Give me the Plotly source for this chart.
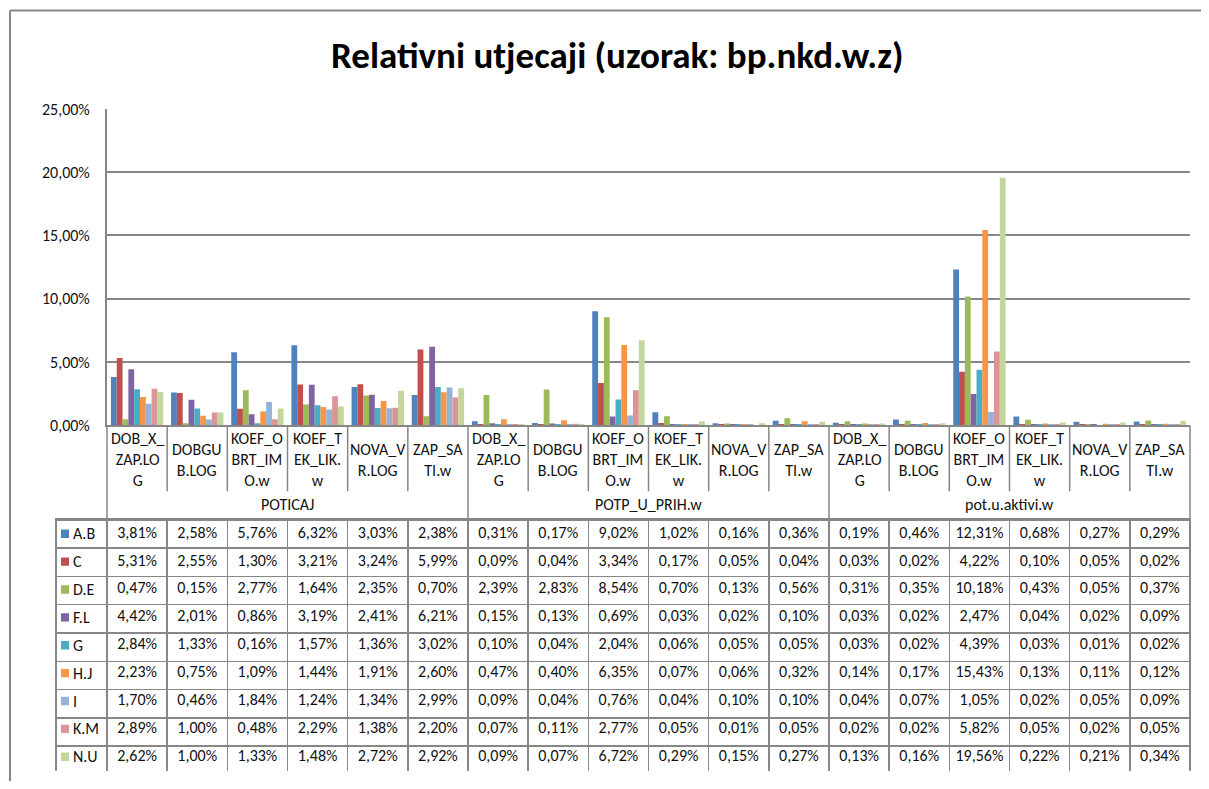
import plotly.graph_objects as go

# ---------------- data ----------------
groups = ["POTICAJ", "POTP_U_PRIH.w", "pot.u.aktivi.w"]
categories = ["DOB_X_<br>ZAP.LO<br>G", "DOBGU<br>B.LOG", "KOEF_O<br>BRT_IM<br>O.w",
              "KOEF_T<br>EK_LIK.<br>w", "NOVA_V<br>R.LOG", "ZAP_SA<br>TI.w"]
series_names = ["A.B", "C", "D.E", "F.L", "G", "H.J", "I", "K.M", "N.U"]

s_AB = [3.81, 2.58, 5.76, 6.32, 3.03, 2.38, 0.31, 0.17, 9.02, 1.02, 0.16, 0.36, 0.19, 0.46, 12.31, 0.68, 0.27, 0.29]
s_C = [5.31, 2.55, 1.30, 3.21, 3.24, 5.99, 0.09, 0.04, 3.34, 0.17, 0.05, 0.04, 0.03, 0.02, 4.22, 0.10, 0.05, 0.02]
s_DE = [0.47, 0.15, 2.77, 1.64, 2.35, 0.70, 2.39, 2.83, 8.54, 0.70, 0.13, 0.56, 0.31, 0.35, 10.18, 0.43, 0.05, 0.37]
s_FL = [4.42, 2.01, 0.86, 3.19, 2.41, 6.21, 0.15, 0.13, 0.69, 0.03, 0.02, 0.10, 0.03, 0.02, 2.47, 0.04, 0.02, 0.09]
s_G = [2.84, 1.33, 0.16, 1.57, 1.36, 3.02, 0.10, 0.04, 2.04, 0.06, 0.05, 0.05, 0.03, 0.02, 4.39, 0.03, 0.01, 0.02]
s_HJ = [2.23, 0.75, 1.09, 1.44, 1.91, 2.60, 0.47, 0.40, 6.35, 0.07, 0.06, 0.32, 0.14, 0.17, 15.43, 0.13, 0.11, 0.12]
s_I = [1.70, 0.46, 1.84, 1.24, 1.34, 2.99, 0.09, 0.04, 0.76, 0.04, 0.10, 0.10, 0.04, 0.07, 1.05, 0.02, 0.05, 0.09]
s_KM = [2.89, 1.00, 0.48, 2.29, 1.38, 2.20, 0.07, 0.11, 2.77, 0.05, 0.01, 0.05, 0.02, 0.02, 5.82, 0.05, 0.02, 0.05]
s_NU = [2.62, 1.00, 1.33, 1.48, 2.72, 2.92, 0.09, 0.07, 6.72, 0.29, 0.15, 0.27, 0.13, 0.16, 19.56, 0.22, 0.21, 0.34]
series_values = [s_AB, s_C, s_DE, s_FL, s_G, s_HJ, s_I, s_KM, s_NU]

colors = ["#4F81BD", "#C0504D", "#9BBB59", "#8064A2", "#4BACC6",
          "#F79646", "#95B3D7", "#D99694", "#C3D69B"]

y_ticks = [0, 5, 10, 15, 20, 25]

# ---------------- layout geometry (page pixels; the page keeps its 8px body margin) ----------------
OFF = 8
W, H = 1209 - 2 * OFF, 789 - 2 * OFF      # figure fits the window exactly, no scrolling
ML, MR, MT, MB = 56 - OFF, 11, 109 - OFF, 0
PW, PH = W - ML - MR, H - MT - MB
PLOT_L = 107          # left edge of bar plot area (page px)
PLOT_R = 1190
ZERO_Y = 430          # page row of 0 %
CAT_BOTTOM = 497      # bottom of category dividers
TABLE_TOP = 525
HEAD_H = 1
ROW_H = 28.3
GRID = "#878787"
TXT = "#111111"
FONT = "Carlito, Calibri, Lato, sans-serif"


def px_x(px):
    return min(max((px - OFF - ML) / PW, -1.0), 2.0)


def px_y(py):
    return (H - MB - (py - OFF)) / PH


def clamp01(v):
    return min(max(v, 0.0), 1.0)


def fmt(v):
    return f"{v:.2f}%".replace(".", ",")


n_cat = len(groups) * len(categories)
n_ser = len(series_names)
x_pos = list(range(n_cat))
cat_labels = categories * len(groups)
ROWS_TOP = TABLE_TOP + HEAD_H
ROWS_BOTTOM = ROWS_TOP + ROW_H * n_ser

fig = go.Figure()
for name, vals, col in zip(series_names, series_values, colors):
    fig.add_trace(go.Bar(x=x_pos, y=vals, name=name, marker=dict(color=col, line=dict(width=0)),
                         showlegend=False))

# table values: one text row per series, on the category axis (x) and the row axis (y2)
for i, (name, vals) in enumerate(zip(series_names, series_values)):
    fig.add_trace(go.Scatter(x=x_pos, y=[name] * n_cat, xaxis="x", yaxis="y2", mode="text",
                             text=[fmt(v) for v in vals], textposition="middle center",
                             textfont=dict(family=FONT, size=16, color=TXT),
                             cliponaxis=False, showlegend=False, hoverinfo="skip"))

# data-table grid (transparent cells, so the value texts show through)
fig.add_trace(go.Table(
    domain=dict(x=[0, clamp01(px_x(PLOT_R))], y=[0, clamp01(px_y(TABLE_TOP))]),
    columnwidth=[PLOT_L - 56] + [(PLOT_R - PLOT_L) / n_cat] * n_cat,
    header=dict(values=[""] * (n_cat + 1), height=HEAD_H, fill_color="rgba(0,0,0,0)",
                line=dict(color=GRID, width=1.5)),
    cells=dict(values=[[""] * n_ser for _ in range(n_cat + 1)], height=ROW_H,
               fill_color="rgba(0,0,0,0)", line=dict(color=GRID, width=1.5)),
))

shapes = []
annotations = []
# outer chart frame (top + left)
shapes.append(dict(type="line", xref="paper", yref="paper", x0=px_x(10), x1=px_x(1215),
                   y0=px_y(9), y1=px_y(9), line=dict(color=GRID, width=2)))
shapes.append(dict(type="line", xref="paper", yref="paper", x0=px_x(10), x1=px_x(10),
                   y0=px_y(9), y1=px_y(800), line=dict(color=GRID, width=2)))

# legend keys in the table's first column
for i, (name, col) in enumerate(zip(series_names, colors)):
    shapes.append(dict(type="rect", xref="paper", yref="y2", x0=px_x(61), x1=px_x(69),
                       y0=i - 0.15, y1=i + 0.15, fillcolor=col, line=dict(width=0)))
    annotations.append(dict(x=px_x(71), y=name, xref="paper", yref="y2", text=name,
                            showarrow=False, xanchor="left", yanchor="middle",
                            font=dict(family=FONT, size=16, color=TXT)))

# category dividers
ng = len(categories)
for k in range(n_cat + 1):
    is_group = (k % ng == 0)
    y1 = px_y(TABLE_TOP) if is_group else px_y(CAT_BOTTOM)
    if k == 0:
        shapes.append(dict(type="line", xref="paper", yref="paper", x0=px_x(PLOT_L), x1=px_x(PLOT_L),
                           y0=px_y(ZERO_Y), y1=y1, line=dict(color=GRID, width=1.5)))
    elif k == n_cat:
        shapes.append(dict(type="line", xref="paper", yref="paper", x0=px_x(PLOT_R), x1=px_x(PLOT_R),
                           y0=px_y(ZERO_Y), y1=y1, line=dict(color=GRID, width=1.5)))
    else:
        shapes.append(dict(type="line", xref="x", yref="paper", x0=k - 0.5, x1=k - 0.5,
                           y0=px_y(ZERO_Y), y1=y1, line=dict(color=GRID, width=1.5)))

# category labels
for i, lab in enumerate(cat_labels):
    annotations.append(dict(x=x_pos[i], y=px_y(465), xref="x", yref="paper",
                            text=lab, showarrow=False, xanchor="center", yanchor="middle",
                            font=dict(family=FONT, size=16, color=TXT)))
# group labels
for g, gname in enumerate(groups):
    annotations.append(dict(x=g * ng + (ng - 1) / 2, y=px_y(510), xref="x", yref="paper",
                            text=gname, showarrow=False, xanchor="center", yanchor="middle",
                            font=dict(family=FONT, size=16, color=TXT)))

# title
annotations.append(dict(x=px_x(617), y=px_y(55), xref="paper", yref="paper",
                        text="<b>Relativni utjecaji (uzorak: bp.nkd.w.z)</b>", showarrow=False,
                        xanchor="center", yanchor="middle",
                        font=dict(family=FONT, size=37, color="#000000")))

fig.update_layout(
    width=W, height=H,
    margin=dict(l=ML, r=MR, t=MT, b=MB),
    paper_bgcolor="white", plot_bgcolor="rgba(0,0,0,0)",
    barmode="group", bargap=0.13, bargroupgap=0,
    font=dict(family=FONT, size=14, color=TXT),
    shapes=shapes, annotations=annotations,
    xaxis=dict(domain=[clamp01(px_x(PLOT_L)), clamp01(px_x(PLOT_R))], range=[-0.5, n_cat - 0.5],
               showticklabels=False, ticks="", showgrid=False, zeroline=False, showline=True,
               linecolor=GRID, linewidth=2, fixedrange=True),
    yaxis=dict(domain=[clamp01(px_y(ZERO_Y)), 1], range=[0, 25], tickmode="array", tickvals=y_ticks,
               ticktext=[fmt(v) for v in y_ticks],
               showgrid=True, gridcolor=GRID, gridwidth=2, zeroline=False,
               showline=True, linecolor=GRID, linewidth=2, ticks="outside", ticklen=12,
               tickcolor="rgba(0,0,0,0)", tickfont=dict(family=FONT, size=16, color=TXT),
               fixedrange=True),
    yaxis2=dict(domain=[clamp01(px_y(ROWS_BOTTOM)), clamp01(px_y(ROWS_TOP))], type="category",
                categoryorder="array", categoryarray=series_names,
                range=[n_ser - 0.5, -0.5], anchor="x", showticklabels=False, showgrid=False,
                zeroline=False, showline=False, ticks="", fixedrange=True),
)

fig.write_html("out.html", config={"displayModeBar": False})
